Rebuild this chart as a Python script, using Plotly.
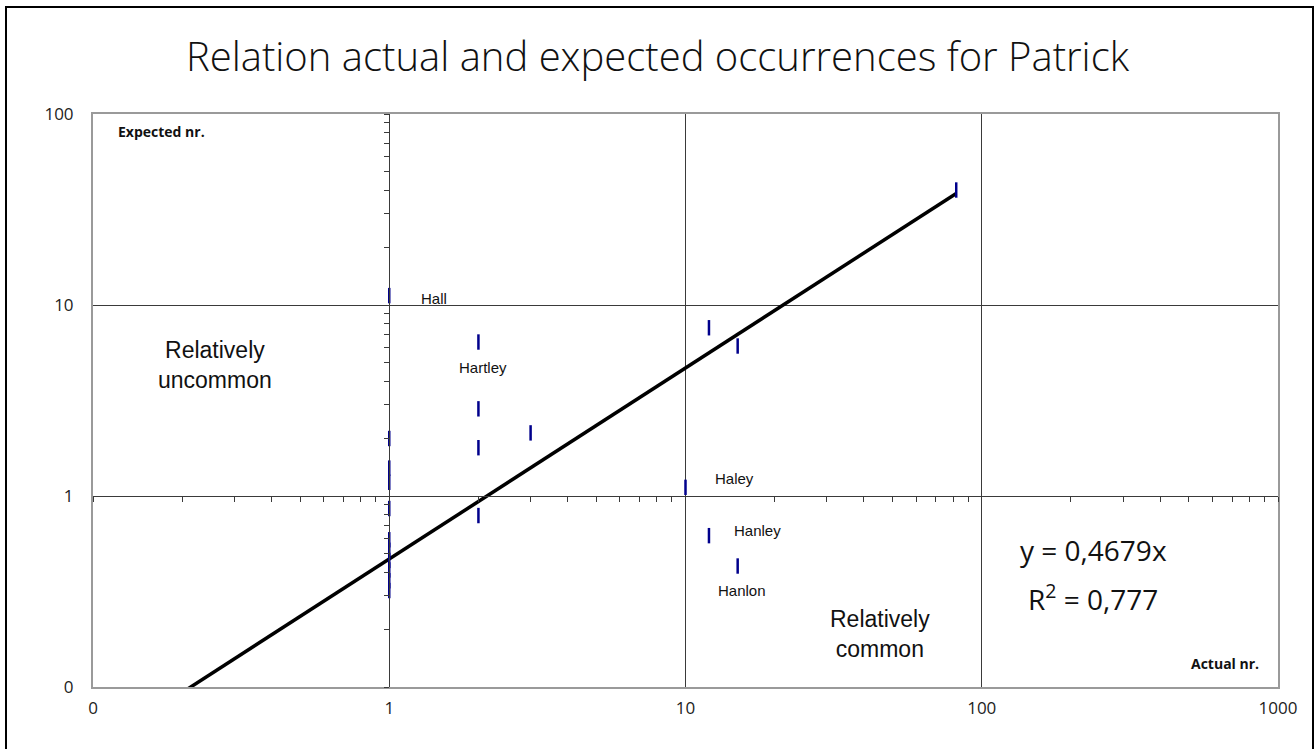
import math
import plotly.graph_objects as go

# ---- data ----
actual = [1, 1, 1, 1, 1, 1, 1, 1, 1, 1, 1,
          2, 2, 2, 2, 3, 10, 12, 12, 15, 15, 82]
expected = [11.2, 2.0, 1.4, 1.18, 0.86, 0.59, 0.52, 0.46, 0.41, 0.36, 0.32,
            6.4, 2.86, 1.79, 0.79, 2.14, 1.11, 7.6, 0.62, 6.1, 0.43, 40.0]

slope = 0.4679
r2 = 0.777
trend_x = [0.1, 82]

label_names = ["Hall", "Hartley", "Haley", "Hanley", "Hanlon"]
label_x = [1, 2, 10, 12, 15]
label_y = [11.2, 6.4, 1.11, 0.62, 0.43]

major_vals_x = [0.1, 1, 10, 100, 1000]
major_text_x = ["0", "1", "10", "100", "1000"]
major_vals_y = [0.1, 1, 10, 100]
major_text_y = ["0", "1", "10", "100"]

title_text = "Relation actual and expected occurrences for Patrick"

# ---- layout geometry ----
W, H = 1315, 749
L, R, T, B = 93, 37, 114, 62
pw, ph = W - L - R, H - T - B

minor_x = [k * d for d in [0.1, 1, 10, 100] for k in range(1, 10)] + [1000]
minor_y = [k * d for d in [0.1, 1, 10] for k in range(1, 10)] + [100]

fig = go.Figure()

trend_y = [slope * v for v in trend_x]
fig.add_trace(go.Scatter(x=trend_x, y=trend_y, mode="lines",
                         line=dict(color="black", width=3.5),
                         hoverinfo="skip", showlegend=False,
                         xaxis="x", yaxis="y"))

fig.add_trace(go.Scatter(x=actual, y=expected, mode="markers",
                         marker=dict(symbol="line-ns", size=11,
                                     line=dict(color="#00008C", width=2.5)),
                         showlegend=False, xaxis="x2", yaxis="y2"))

axis_common = dict(type="log", showgrid=True, gridcolor="#3a3a3a", gridwidth=1,
                   zeroline=False, showline=True, mirror=True,
                   linecolor="#9a9a9a", linewidth=2,
                   tickfont=dict(family="Open Sans", size=17, color="#222"))

fig.update_layout(
    width=W, height=H,
    margin=dict(l=L, r=R, t=T, b=B),
    paper_bgcolor="white", plot_bgcolor="white",
    title=dict(text=title_text, x=0.5, xanchor="center", xref="container",
               y=1 - 57 / H, yanchor="middle", yref="container",
               font=dict(family="Open Sans", size=40, color="#111", weight=300)),
    xaxis=dict(range=[-1, 3], tickvals=major_vals_x, ticktext=major_text_x,
               ticks="outside", ticklen=5, tickcolor="rgba(0,0,0,0)", **axis_common),
    yaxis=dict(range=[-1, 2], tickvals=major_vals_y, ticktext=major_text_y,
               ticks="outside", ticklen=14, tickcolor="rgba(0,0,0,0)", **axis_common),
    xaxis2=dict(type="log", range=[-1, 3], overlaying="x", anchor="free",
                position=(math.log10(1) + 1) / 3, side="bottom",
                tickvals=minor_x, ticks="outside", ticklen=5, tickwidth=1,
                tickcolor="#3a3a3a", showticklabels=False, showgrid=False,
                zeroline=False, showline=True, linecolor="#3a3a3a", linewidth=1),
    yaxis2=dict(type="log", range=[-1, 2], overlaying="y", anchor="free",
                position=(math.log10(1) + 1) / 4, side="left",
                tickvals=minor_y, ticks="outside", ticklen=5, tickwidth=1,
                tickcolor="#3a3a3a", showticklabels=False, showgrid=False,
                zeroline=False, showline=True, linecolor="#3a3a3a", linewidth=1),
    showlegend=False,
)

# outer frame
fig.add_shape(type="rect", xref="paper", yref="paper",
              x0=(6 - L) / pw, x1=(1313 - L) / pw,
              y0=(H - B - 770) / ph, y1=(H - B - 7) / ph,
              line=dict(color="black", width=2), fillcolor="rgba(0,0,0,0)",
              layer="above")

# point labels
shifts = [(30, -3, "left"), (5, -25, "center"), (27, 9, "left"),
          (23, 5, "left"), (-22, -24, "left")]
for name, lx, ly, (dx, dy, anc) in zip(label_names, label_x, label_y, shifts):
    fig.add_annotation(x=math.log10(lx), y=math.log10(ly), xref="x", yref="y",
                       text=name, showarrow=False, xanchor=anc, yanchor="middle",
                       xshift=dx, yshift=dy,
                       font=dict(family="Liberation Sans", size=15, color="#111"))

def paper_x(px):
    return (px - L) / pw

def paper_y(py):
    return (H - B - py) / ph

fig.add_annotation(x=paper_x(215), y=paper_y(365), xref="paper", yref="paper",
                   text="Relatively<br>uncommon", showarrow=False,
                   xanchor="center", yanchor="middle", align="center",
                   font=dict(family="Liberation Sans", size=23, color="#111"))
fig.add_annotation(x=paper_x(880), y=paper_y(634), xref="paper", yref="paper",
                   text="Relatively<br>common", showarrow=False,
                   xanchor="center", yanchor="middle", align="center",
                   font=dict(family="Liberation Sans", size=23, color="#111"))
fig.add_annotation(x=paper_x(1093), y=paper_y(550), xref="paper", yref="paper",
                   text=f"y = {str(slope).replace('.', ',')}x",
                   showarrow=False, xanchor="center", yanchor="middle",
                   font=dict(family="Open Sans", size=28, color="#111"))
fig.add_annotation(x=paper_x(1093), y=paper_y(597), xref="paper", yref="paper",
                   text=f"R<sup>2</sup> = {str(r2).replace('.', ',')}",
                   showarrow=False, xanchor="center", yanchor="middle",
                   font=dict(family="Open Sans", size=28, color="#111"))
fig.add_annotation(x=paper_x(116), y=paper_y(131), xref="paper", yref="paper",
                   text="<b>Expected nr.</b>", showarrow=False, xanchor="left",
                   yanchor="middle",
                   font=dict(family="Open Sans", size=14, color="#111"))
fig.add_annotation(x=paper_x(1261), y=paper_y(663), xref="paper", yref="paper",
                   text="<b>Actual nr.</b>", showarrow=False, xanchor="right",
                   yanchor="middle",
                   font=dict(family="Open Sans", size=14, color="#111"))

fig.write_html("out.html", config={"displayModeBar": False},
               post_script="document.body.style.margin='0px';document.body.style.overflow='hidden';")
